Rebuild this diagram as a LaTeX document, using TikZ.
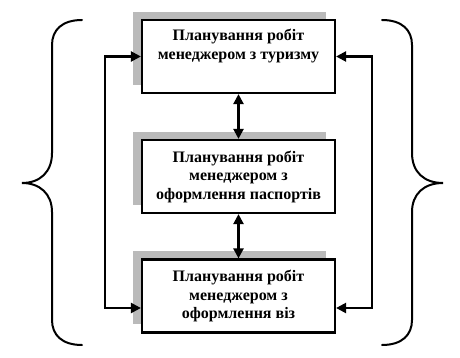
\documentclass[tikz,border=0pt]{standalone}
\usepackage{fontspec}
\setmainfont{Liberation Serif}
\usetikzlibrary{arrows.meta,calc}
\begin{document}
\begin{tikzpicture}[x=1pt,y=-1pt,
  box/.style={draw, line width=2.2pt, fill=white, minimum width=193pt, minimum height=73pt,
    inner sep=0pt, align=center, font=\fontsize{16}{18.5}\selectfont\bfseries},
  shadowbox/.style={fill=black!27, draw=none},
  link/.style={line width=2.3pt, {Triangle[length=10pt,width=10pt]}-{Triangle[length=10pt,width=10pt]}},
  brace/.style={line width=2pt, line cap=round}]
\useasboundingbox (0,0) rectangle (460,358);
% shadows
\fill[shadowbox] (133,12) rectangle (326,85);
\fill[shadowbox] (133,132) rectangle (326,205);
\fill[shadowbox] (133,251) rectangle (326,324);
% boxes
\node[box] (b1) at (238.5,56.5) {Планування робіт\\менеджером з туризму\\\strut};
\node[box] (b2) at (238.5,176.5) {Планування робіт\\менеджером з\\оформлення паспортів};
\node[box] (b3) at (238.5,296) {Планування робіт\\менеджером з\\оформлення віз};
% links
\draw[link] (b1.south) -- (b2.north);
\draw[link] (b2.south) -- (b3.north);
\coordinate (l3) at ($(b3.west)+(0,12)$);
\coordinate (r3) at ($(b3.east)+(0,12)$);
\draw[link] (b1.west) -- ++(-36,0) |- (l3);
\draw[link] (b1.east) -- ++(36,0) |- (r3);
% braces
\draw[brace] (82,20) .. controls (62,20) and (52,30) .. (52,45) -- (52,153)
  .. controls (52,172) and (40,183) .. (22,183)
  .. controls (40,183) and (52,194) .. (52,212) -- (52,320)
  .. controls (52,335) and (62,345) .. (82,345);
\draw[brace] (382,20) .. controls (402,20) and (412,30) .. (412,45) -- (412,153)
  .. controls (412,172) and (424,183) .. (443,183)
  .. controls (424,183) and (412,194) .. (412,212) -- (412,320)
  .. controls (412,335) and (402,345) .. (382,345);
\end{tikzpicture}
\end{document}
